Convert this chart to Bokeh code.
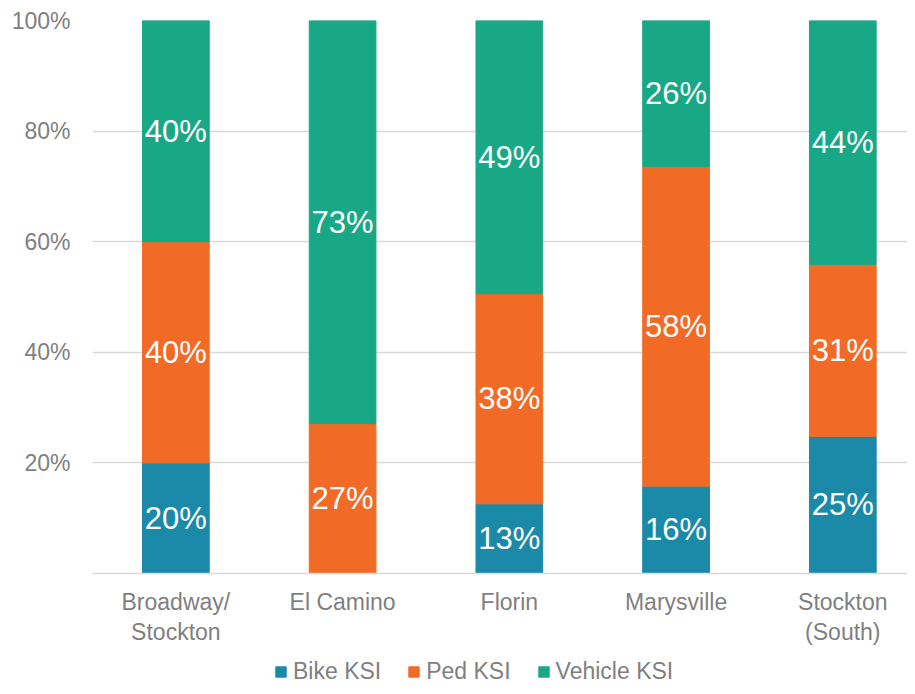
from bokeh.plotting import figure
from bokeh.models import (ColumnDataSource, Range1d, FixedTicker, PrintfTickFormatter,
                          Legend, LegendItem)
from bokeh.layouts import column
from bokeh.core.properties import value
from bokeh.embed import file_html
from bokeh.resources import INLINE

categories = ["Broadway/\nStockton", "El Camino", "Florin", "Marysville", "Stockton\n(South)"]
bike_ksi = [20.0, 0.0, 12.6, 15.8, 24.8]
ped_ksi = [40.0, 27.1, 38.0, 57.8, 31.1]
vehicle_ksi = [40.0, 72.9, 49.4, 26.4, 44.1]
series_names = ["Bike KSI", "Ped KSI", "Vehicle KSI"]
series_colors = ["#1a8aa8", "#f26b26", "#19a886"]
y_ticks = [20, 40, 60, 80, 100]

FONT = "Liberation Sans"
GRAY = "#7f7f7f"

xs = [i + 0.5 for i in range(len(categories))]
stackers = ["bike", "ped", "veh"]
source = ColumnDataSource(dict(x=xs, bike=bike_ksi, ped=ped_ksi, veh=vehicle_ksi))

p = figure(width=907, height=651, output_backend="svg", toolbar_location=None,
           x_range=Range1d(0, 4.888), y_range=Range1d(0, 100),
           min_border_left=92, min_border_right=0, min_border_top=20, min_border_bottom=78)
p.outline_line_color = None
p.background_fill_color = "white"
p.border_fill_color = "white"

renderers = p.vbar_stack(stackers, x="x", width=0.4, color=series_colors, source=source)

# data labels
lx, ly, lt = [], [], []
for i, x in enumerate(xs):
    base = 0.0
    for vals in (bike_ksi, ped_ksi, vehicle_ksi):
        v = vals[i]
        if v > 0:
            lx.append(x)
            ly.append(base + v / 2)
            lt.append(f"{round(v)}%")
        base += v
lsrc = ColumnDataSource(dict(x=lx, y=ly, t=lt))
p.text("x", "y", text="t", source=lsrc, text_align="center", text_baseline="middle",
       text_color="white", text_font=value(FONT), text_font_size="31px")

# axes
p.yaxis.ticker = FixedTicker(ticks=y_ticks)
p.yaxis.formatter = PrintfTickFormatter(format="%d%%")
p.yaxis.axis_line_color = None
p.yaxis.major_tick_line_color = None
p.yaxis.minor_tick_line_color = None
p.yaxis.major_tick_out = 0
p.yaxis.major_label_standoff = 22
p.yaxis.major_label_text_font = FONT
p.yaxis.major_label_text_font_size = "23px"
p.yaxis.major_label_text_color = GRAY

p.xaxis.ticker = FixedTicker(ticks=xs)
p.xaxis.major_label_overrides = {x: c for x, c in zip(xs, categories)}
p.xaxis.axis_line_color = "#d9d9d9"
p.xaxis.axis_line_width = 1.5
p.xaxis.major_tick_line_color = None
p.xaxis.minor_tick_line_color = None
p.xaxis.major_tick_out = 0
p.xaxis.major_label_standoff = 15
p.xaxis.major_label_text_font = FONT
p.xaxis.major_label_text_font_size = "23px"
p.xaxis.major_label_text_color = GRAY
p.xaxis.major_label_text_line_height = 1.17

p.xgrid.grid_line_color = None
p.ygrid.ticker = FixedTicker(ticks=y_ticks)
p.ygrid.grid_line_color = "#d9d9d9"
p.ygrid.grid_line_width = 1.5

# legend strip below the chart (its frame is aligned with the chart's frame)
p2 = figure(width=907, height=35, output_backend="svg", toolbar_location=None,
            x_range=Range1d(0, 1), y_range=Range1d(0, 1),
            min_border_left=0, min_border_right=0, min_border_top=0, min_border_bottom=0)
p2.axis.visible = False
p2.grid.visible = False
p2.outline_line_color = None
p2.border_fill_color = "white"
swatches = [p2.vbar(x=[-5], top=[0], width=0.1, color=c) for c in series_colors]
legend = Legend(items=[LegendItem(label=n, renderers=[r]) for n, r in zip(series_names, swatches)],
                orientation="horizontal", location=(182, 1),
                label_text_font=FONT, label_text_font_size="23px", label_text_color=GRAY,
                glyph_width=13, glyph_height=13, label_standoff=6, spacing=26,
                padding=0, margin=0, border_line_color=None, background_fill_alpha=0)
p2.add_layout(legend, "center")

layout = column(p, p2, spacing=0)
open("out.html", "w").write(file_html(layout, INLINE))
